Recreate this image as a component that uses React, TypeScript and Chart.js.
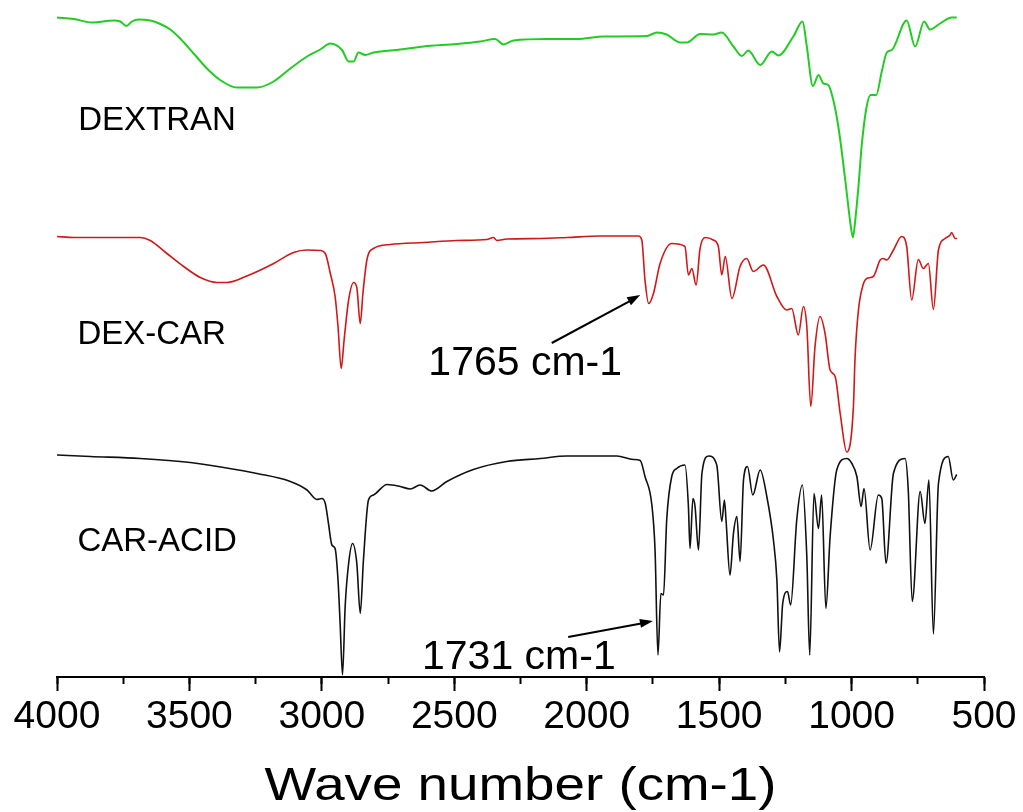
import { useEffect, useRef } from 'react';
import { Chart, registerables } from 'chart.js';

Chart.register(...registerables);

// Wavenumber axis ticks (cm-1)
const axisMin = 500;
const axisMax = 4000;
const majorStep = 500;
const minorStep = 250;
const axisTitle = 'Wave number (cm-1)';

// Offset transmittance (a.u.): [wavenumber, value]
const dextran: [number, number][] = [
  [4000, 131.9], [3937, 131.6], [3868, 130.9], [3786, 131.3], [3761, 131.1], [3738, 130.2],
  [3717, 131.1], [3692, 131.5], [3648, 131.3], [3610, 130.6], [3572, 129.5], [3535, 127.7],
  [3484, 124.7], [3434, 121.7], [3384, 119.4], [3321, 117.9], [3245, 117.9], [3182, 119.1],
  [3119, 121.7], [3056, 124.1], [3006, 125.5], [2968, 126.7], [2924, 125.4], [2899, 123.1],
  [2880, 123.1], [2862, 124.9], [2836, 124.4], [2805, 124.9], [2704, 125.5], [2616, 126.1],
  [2490, 126.6], [2402, 127.1], [2346, 127.6], [2314, 126.5], [2277, 127.3], [2150, 127.6],
  [2037, 127.6], [1937, 128.1], [1773, 128.2], [1735, 128.9], [1698, 128.5], [1647, 126.9],
  [1622, 126.9], [1572, 128.6], [1522, 128.5], [1490, 128.9], [1446, 126.1], [1414, 124.2],
  [1390, 125.3], [1345, 122.4], [1301, 125.1], [1276, 124.3], [1220, 128.1], [1185, 131.1],
  [1169, 126.1], [1146, 118.2], [1125, 120.4], [1106, 118.7], [1088, 118.4], [1069, 115.4],
  [1050, 110.1], [1033, 103.4], [1018, 96.7], [1006, 91.4], [995, 87.9], [986, 91.4],
  [974, 98.1], [961, 106.7], [943, 114.1], [928, 116.4], [907, 116.4], [886, 121.1],
  [867, 124.9], [848, 125.4], [792, 131.3], [760, 126.1], [726, 131.1], [704, 129.5],
  [666, 130.7], [622, 131.9], [603, 131.9],
];

const dexCar: [number, number][] = [
  [4000, 88.1], [3937, 87.9], [3811, 87.9], [3686, 87.9], [3648, 87.3], [3585, 84.7],
  [3522, 82.1], [3459, 79.9], [3396, 78.9], [3358, 78.9], [3283, 80.2], [3182, 82.7],
  [3107, 84.9], [3056, 85.4], [3006, 85.3], [2987, 84.7], [2968, 80.7], [2950, 76.1],
  [2939, 70.1], [2927, 61.7], [2916, 67.4], [2899, 75.4], [2880, 78.9], [2868, 77.9],
  [2855, 70.7], [2845, 76.7], [2830, 83.4], [2805, 85.7], [2742, 86.5], [2616, 86.9],
  [2490, 87.3], [2377, 87.5], [2352, 87.9], [2339, 87.3], [2302, 87.6], [2176, 87.7],
  [2075, 87.9], [1949, 88.2], [1805, 88.2], [1792, 87.4], [1780, 79.4], [1766, 74.7],
  [1748, 76.7], [1723, 82.7], [1679, 86.7], [1629, 86.1], [1616, 80.4], [1603, 81.7],
  [1587, 78.4], [1572, 85.7], [1553, 87.9], [1522, 87.4], [1503, 86.1], [1490, 80.4],
  [1477, 84.1], [1452, 75.7], [1421, 82.1], [1396, 83.7], [1371, 81.1], [1333, 82.4],
  [1282, 76.1], [1245, 73.4], [1226, 73.7], [1201, 68.4], [1182, 74.1], [1169, 70.1],
  [1154, 54.1], [1138, 66.1], [1119, 72.1], [1100, 68.7], [1081, 61.4], [1062, 60.1],
  [1043, 52.7], [1018, 45.0], [993, 54.1], [987, 63.7], [974, 73.4], [955, 78.7],
  [943, 79.7], [918, 80.1], [892, 83.4], [880, 83.7], [867, 83.4], [842, 85.4],
  [811, 88.1], [792, 86.1], [773, 75.4], [748, 83.5], [729, 81.7], [710, 82.7],
  [691, 73.5], [672, 85.4], [647, 87.7], [628, 88.4], [622, 88.9], [609, 87.7], [601, 87.7],
];

const carAcid: [number, number][] = [
  [4000, 44.4], [3874, 44.1], [3686, 43.7], [3497, 42.9], [3371, 41.9], [3245, 40.7],
  [3119, 39.1], [3056, 37.4], [3019, 35.5], [3000, 35.7], [2987, 34.7], [2975, 30.7],
  [2962, 26.4], [2950, 25.7], [2939, 19.4], [2931, 10.7], [2922, 0.4], [2912, 14.1],
  [2899, 22.7], [2884, 26.7], [2868, 22.7], [2855, 12.7], [2843, 23.4], [2824, 35.4],
  [2805, 36.4], [2754, 38.5], [2704, 38.1], [2666, 37.6], [2629, 38.4], [2585, 37.2],
  [2528, 39.1], [2428, 41.5], [2302, 43.1], [2176, 43.7], [2075, 44.2], [1886, 44.2],
  [1824, 43.5], [1798, 43.3], [1780, 40.1], [1754, 34.4], [1742, 25.4], [1731, 4.4],
  [1720, 16.7], [1710, 16.4], [1698, 31.4], [1679, 40.1], [1660, 41.7], [1629, 42.4],
  [1616, 34.1], [1610, 25.7], [1599, 35.7], [1591, 34.1], [1578, 25.4], [1565, 40.7],
  [1540, 44.2], [1509, 42.4], [1490, 31.1], [1480, 35.4], [1474, 31.4], [1459, 20.4],
  [1446, 28.7], [1433, 32.1], [1421, 23.1], [1408, 39.4], [1393, 42.1], [1373, 36.4],
  [1345, 41.4], [1320, 36.1], [1295, 27.4], [1282, 19.4], [1272, 5.0], [1260, 14.7],
  [1242, 17.1], [1230, 14.4], [1207, 31.4], [1186, 38.4], [1169, 24.1], [1158, 4.4],
  [1142, 36.7], [1125, 29.7], [1113, 36.4], [1097, 13.7], [1081, 28.1], [1056, 41.4],
  [1018, 43.7], [999, 42.7], [980, 40.1], [964, 34.1], [953, 37.7], [930, 25.4],
  [899, 36.4], [886, 35.7], [870, 22.7], [842, 40.7], [798, 43.7], [786, 37.4],
  [771, 15.1], [741, 37.1], [723, 30.7], [708, 39.4], [691, 8.6], [672, 38.7],
  [635, 44.1], [616, 39.4], [603, 40.5],
];

const seriesNames = ['DEXTRAN', 'DEX-CAR', 'CAR-ACID'];
const seriesColors = ['#22cc22', '#d01818', '#111111'];

// Annotation placement in data units (wavenumber, value)
const nameLabelPos: [number, number][] = [[3920, 109.4], [3923, 66.6], [3923, 25.2]];
const peakLabels = ['1765 cm-1', '1731 cm-1'];
const peakLabelPos: [number, number][] = [[2598, 60.5], [2622, 1.6]];
const arrowFrom: [number, number][] = [[2132, 66.8], [2070, 8.0]];
const arrowTo: [number, number][] = [[1798, 76.4], [1750, 11.2]];

const FONT = '"Liberation Sans", Arial, Helvetica, sans-serif';

function drawArrow(ctx: CanvasRenderingContext2D, x1: number, y1: number, x2: number, y2: number) {
  const ang = Math.atan2(y2 - y1, x2 - x1);
  const hl = 13;
  const hw = 4.5;
  const bx = x2 - hl * Math.cos(ang);
  const by = y2 - hl * Math.sin(ang);
  ctx.beginPath();
  ctx.moveTo(x1, y1);
  ctx.lineTo(bx + 1, by);
  ctx.stroke();
  ctx.beginPath();
  ctx.moveTo(x2, y2);
  ctx.lineTo(bx + hw * Math.sin(ang), by - hw * Math.cos(ang));
  ctx.lineTo(bx - hw * Math.sin(ang), by + hw * Math.cos(ang));
  ctx.closePath();
  ctx.fill();
}

const annotationPlugin = {
  id: 'spectraAnnotations',
  afterDraw(chart: any) {
    const { ctx, chartArea } = chart;
    const x = chart.scales.x;
    const y = chart.scales.y;
    ctx.save();
    ctx.fillStyle = '#000';
    ctx.strokeStyle = '#000';
    ctx.textBaseline = 'alphabetic';
    ctx.textAlign = 'left';
    ctx.font = `33px ${FONT}`;
    seriesNames.forEach((name, i) => {
      ctx.fillText(name, x.getPixelForValue(nameLabelPos[i][0]), y.getPixelForValue(nameLabelPos[i][1]));
    });
    ctx.font = `41px ${FONT}`;
    peakLabels.forEach((t, i) => {
      ctx.fillText(t, x.getPixelForValue(peakLabelPos[i][0]), y.getPixelForValue(peakLabelPos[i][1]));
    });
    ctx.lineWidth = 2;
    arrowFrom.forEach((f, i) => {
      drawArrow(
        ctx,
        x.getPixelForValue(f[0]), y.getPixelForValue(f[1]),
        x.getPixelForValue(arrowTo[i][0]), y.getPixelForValue(arrowTo[i][1])
      );
    });
    // axis title (horizontally stretched as in the reference)
    const cx = (chartArea.left + chartArea.right) / 2;
    ctx.translate(cx, chart.height - 12);
    ctx.scale(1.19, 1);
    ctx.textAlign = 'center';
    ctx.font = `46px ${FONT}`;
    ctx.fillText(axisTitle, 0, 0);
    ctx.restore();
  },
};

export default function App() {
  const canvasRef = useRef<HTMLCanvasElement | null>(null);

  useEffect(() => {
    if (!canvasRef.current) return;
    const seriesData = [dextran, dexCar, carAcid];
    const chart = new Chart(canvasRef.current, {
      type: 'line',
      data: {
        datasets: seriesData.map((s, i) => ({
          label: seriesNames[i],
          data: s.map(([wn, v]) => ({ x: wn, y: v })),
          borderColor: seriesColors[i],
          borderWidth: i === 0 ? 2 : 1.6,
          pointRadius: 0,
          fill: false,
          cubicInterpolationMode: 'monotone' as const,
          xAxisID: 'x',
          yAxisID: 'y',
        })),
      },
      options: {
        responsive: false,
        animation: false,
        devicePixelRatio: 1,
        layout: { padding: { left: 57, right: 39, top: 2, bottom: 0 } },
        plugins: {
          legend: { display: false },
          tooltip: { enabled: false },
          title: { display: false },
        },
        scales: {
          x: {
            type: 'linear',
            axis: 'x',
            position: 'bottom',
            min: axisMin,
            max: axisMax,
            reverse: true,
            afterFit: (scale: any) => {
              scale.height = 135;
            },
            ticks: {
              stepSize: majorStep,
              color: '#000',
              padding: 3,
              maxRotation: 0,
              autoSkip: false,
              font: { family: FONT, size: 39 },
              callback: (v: any) => String(v),
            },
            grid: {
              drawOnChartArea: false,
              drawTicks: true,
              tickLength: 14,
              tickWidth: 2,
              tickColor: '#000',
            },
            border: { display: true, color: '#000', width: 2 },
          },
          x2: {
            type: 'linear',
            axis: 'x',
            position: { y: 0 },
            min: axisMin,
            max: axisMax,
            reverse: true,
            ticks: { display: false, stepSize: minorStep, autoSkip: false },
            grid: {
              drawOnChartArea: false,
              drawTicks: true,
              tickLength: 7,
              tickWidth: 2,
              tickColor: '#000',
            },
            border: { display: false },
          },
          y: {
            type: 'linear',
            display: false,
            min: 0,
            max: 135,
          },
        },
      } as any,
      plugins: [annotationPlugin],
    });
    return () => chart.destroy();
  }, []);

  return (
    <div style={{ position: 'absolute', left: 0, top: 0, width: 1023, height: 812, background: '#fff' }}>
      <canvas ref={canvasRef} width={1023} height={812} style={{ display: 'block' }} />
    </div>
  );
}
